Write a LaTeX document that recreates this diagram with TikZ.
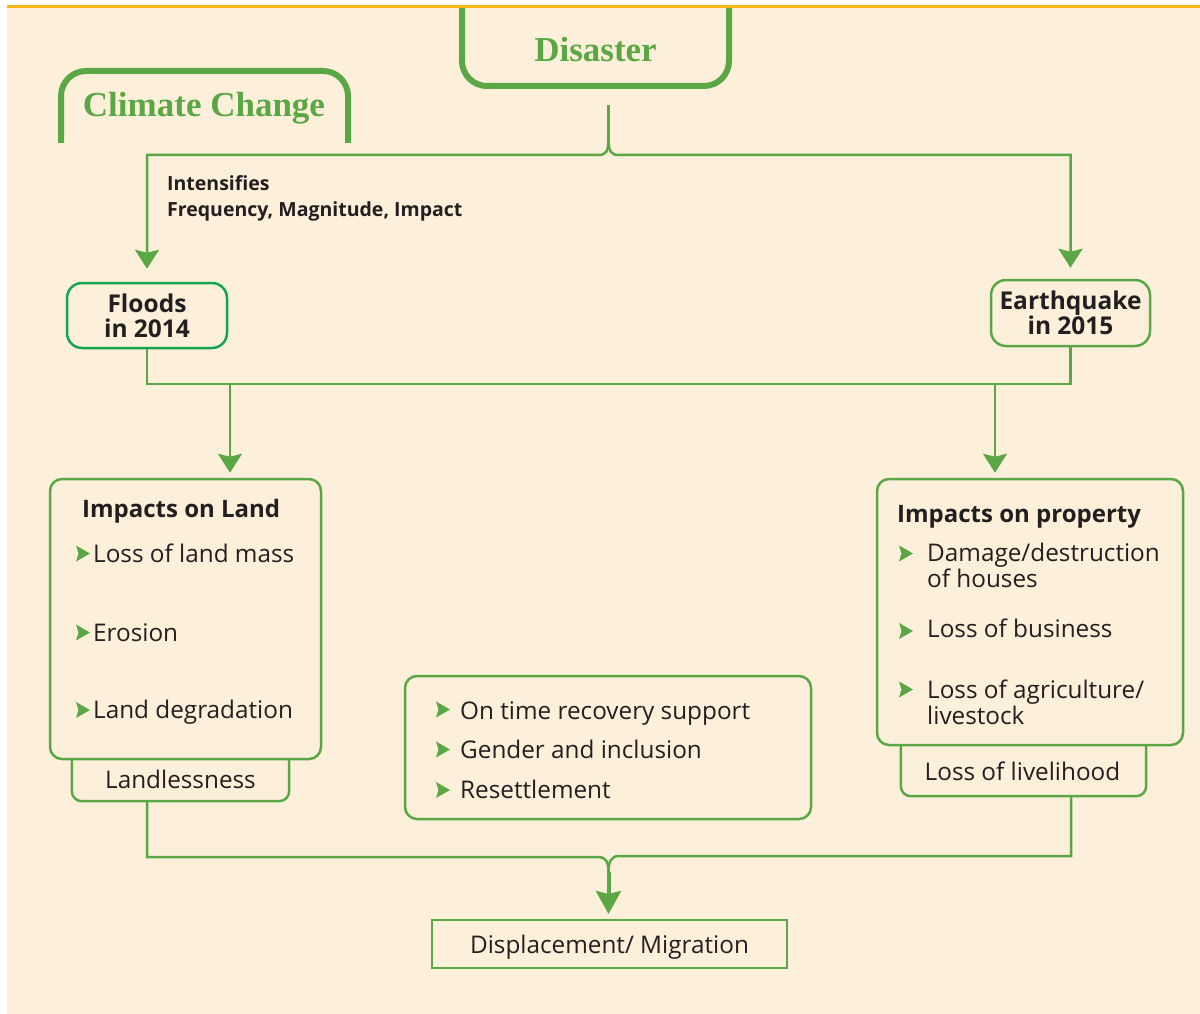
\documentclass[tikz,border=0pt]{standalone}
\usepackage{fontspec}
\setmainfont{Liberation Serif}
\newfontfamily\ptsans{Open Sans}
\usetikzlibrary{arrows.meta}
\definecolor{bg}{RGB}{253,240,218}
\definecolor{gr}{RGB}{91,167,69}
\definecolor{grb}{RGB}{20,165,78}
\definecolor{txt}{RGB}{35,31,32}
\definecolor{orng}{RGB}{251,182,26}
\newcommand\mybullet[1]{\fill[gr] (#1) ++(0,-8) -- ++(14,8) -- ++(-14,8) -- ++(2.5,-8) -- cycle;}
\tikzset{
  conn/.style={draw=gr, line width=2.5pt},
  arr/.style={-{Stealth[length=19pt,width=24pt,inset=3pt]}},
  ttl/.style={font=\bfseries\fontsize{35}{37}\selectfont, text=gr, inner sep=0, anchor=base},
  box/.style={draw=gr, line width=2.5pt, rounded corners=12pt, inner sep=0},
  hbox/.style={draw=grb, line width=2.5pt, rounded corners=15pt, inner sep=0, align=center,
    font=\ptsans\bfseries\fontsize{24.5}{25}\selectfont, text=txt},
  lbl/.style={font=\ptsans\fontsize{24.3}{25.5}\selectfont, text=txt, inner sep=0, anchor=base west, align=left},
  blbl/.style={font=\ptsans\bfseries\fontsize{24}{25}\selectfont, text=txt, inner sep=0, anchor=base west},
  slbl/.style={font=\ptsans\bfseries\fontsize{19.5}{26}\selectfont, text=txt, inner sep=0, anchor=base west, align=left},
}
\begin{document}
\begin{tikzpicture}[x=1pt,y=-1pt]
\useasboundingbox (0,0) rectangle (1200,1014);
\fill[bg] (7,8) rectangle (1200,1014);
\draw[orng, line width=3pt] (7,6.5) -- (1200,6.5);

% titles
\draw[gr, line width=6pt, rounded corners=25pt] (462,8) -- (462,86) -- (729,86) -- (729,8);
\node[ttl] (disaster) at (595.5,62) {Disaster};
\draw[gr, line width=6pt, rounded corners=25pt] (61,143) -- (61,71) -- (348,71) -- (348,143);
\node[ttl] (climate) at (204,117) {Climate Change};

% hazard boxes
\node[hbox, minimum width=160pt, minimum height=65pt] (floods) at (147,315.5) {Floods\\in 2014};
\node[hbox, draw=gr, minimum width=159pt, minimum height=66pt] (quake) at (1070.5,313) {Earthquake\\in 2015};

% top brace
\coordinate (bt) at (608.5,105);
\coordinate (b1) at (608.5,138);
\draw[conn] (bt) -- (b1);
\draw[conn, arr, shorten >=13pt] (b1) .. controls (608.5,152) and (606,155) .. (598,155) -| (floods.north);
\draw[conn, arr, shorten >=11pt] (b1) .. controls (608.5,152) and (611,155) .. (619,155) -| (quake.north);
\node[slbl] (intens) at (167,216) {Intensifies\\Frequency, Magnitude, Impact};

% impact boxes
\node[box, minimum width=271pt, minimum height=280pt] (land) at (185.5,619) {};
\node[box, minimum width=306pt, minimum height=266pt] (prop) at (1030,612) {};
\node[box, minimum width=406pt, minimum height=143pt] (mid) at (608,747.5) {};

% join line
\coordinate (h1) at (0,384);
\draw[conn] (floods.south) -- (floods.south |- h1) -- (quake.south |- h1) -- (quake.south);
\coordinate (a1) at (230,384);
\coordinate (a2) at (995,384);
\draw[conn, arr, shorten >=5pt] (a1) -- (a1 |- land.north);
\draw[conn, arr, shorten >=5pt] (a2) -- (a2 |- prop.north);

% land box content
\node[blbl] (landt) at (82,517) {Impacts on Land};
\mybullet{76,553.5}
\node[lbl] (l1) at (93,562) {Loss of land mass};
\mybullet{76,632.5}
\node[lbl] (l2) at (93,641) {Erosion};
\mybullet{76,710}
\node[lbl] (l3) at (93,718) {Land degradation};

% landlessness
\node[inner sep=0, minimum width=217pt, minimum height=42pt] (landless) at (180.5,780) {};
\draw[gr, line width=2.5pt, rounded corners=10pt] (landless.north west) -- (landless.south west) -- (landless.south east) -- (landless.north east);
\node[lbl, anchor=base] (landlesst) at (180.5,788) {Landlessness};

% property box content
\node[blbl] (propt) at (897,522) {Impacts on property};
\mybullet{899,553.5}
\node[lbl] (p1) at (927,587) {Damage/destruction\\of houses};
\mybullet{899,631}
\node[lbl] (p2) at (927,637) {Loss of business};
\mybullet{899,689.5}
\node[lbl] (p3) at (927,724) {Loss of agriculture/\\livestock};

% livelihood
\node[inner sep=0, minimum width=245pt, minimum height=51pt] (liveli) at (1023.5,770.5) {};
\draw[gr, line width=2.5pt, rounded corners=10pt] (liveli.north west) -- (liveli.south west) -- (liveli.south east) -- (liveli.north east);
\node[lbl, anchor=base] (livelit) at (1022.5,780) {Loss of livelihood};

% middle box content
\mybullet{436,709.5}
\node[lbl] (m1) at (460,719) {On time recovery support};
\mybullet{436,749.5}
\node[lbl] (m2) at (460,758) {Gender and inclusion};
\mybullet{436,790}
\node[lbl] (m3) at (460,798) {Resettlement};

% displacement
\node[draw=gr, line width=2pt, inner sep=0, minimum width=355pt, minimum height=48pt] (disp) at (609.5,944) {};
\node[lbl, anchor=base] (dispt) at (609.5,953) {Displacement/ Migration};

% bottom merge
\coordinate (mg) at (608.5,872);
\draw[conn] (landless.south -| 147,0) -- (147,857) -- (598,857) .. controls (606,857) and (608.5,862) .. (mg);
\draw[conn] (liveli.south -| 1071,0) -- (1071,856) -- (619,856) .. controls (611,856) and (608.5,862) .. (mg);
\draw[gr, line width=4pt, -{Stealth[length=23pt,width=25pt,inset=3pt]}, shorten >=5pt] (mg) -- (mg |- disp.north);
\end{tikzpicture}
\end{document}
